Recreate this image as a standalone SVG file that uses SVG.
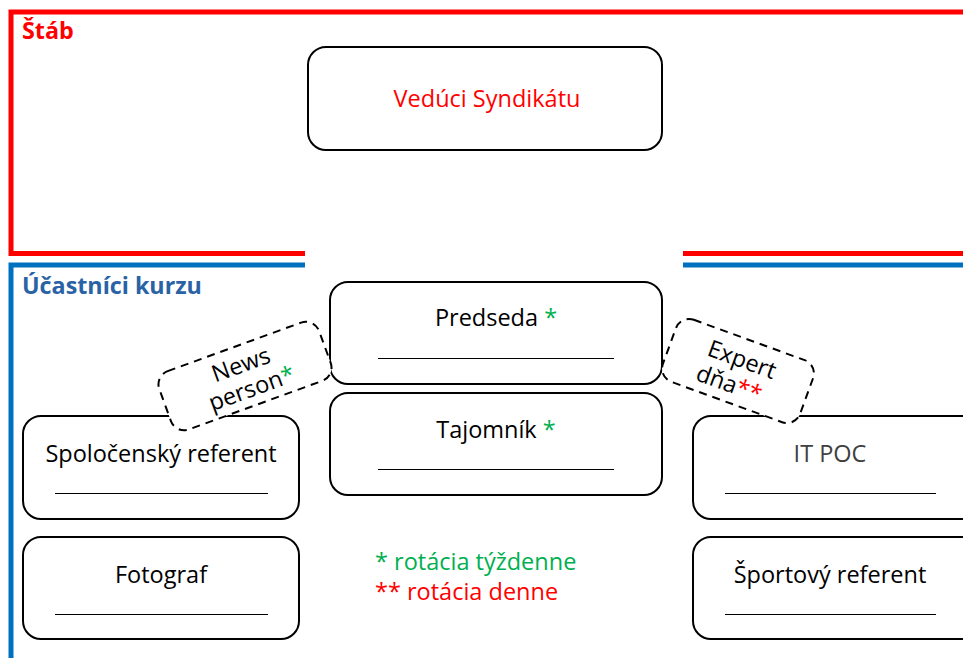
<svg xmlns="http://www.w3.org/2000/svg" width="963" height="658" viewBox="0 0 963 658">
<style>
.box{fill:#fff;stroke:#000;stroke-width:2}
.dash{fill:#fff;stroke:#000;stroke-width:2;stroke-dasharray:8 6}
.ul{stroke:#000;stroke-width:1.2}
.t{font-family:"Open Sans","Liberation Sans",Arial,sans-serif;font-size:23.5px;fill:#000;text-anchor:middle}
.g{fill:#00B050}
.r{fill:#FF0000}
.red{fill:none;stroke:#FF0000;stroke-width:5}
.blue{fill:none;stroke:#0070C0;stroke-width:5}
.hd{font-family:"Open Sans","Liberation Sans",Arial,sans-serif;font-size:23.3px;font-weight:bold}
</style>
<rect width="963" height="658" fill="#fff"/>
<g id="frames">
<polyline class="red" points="963,12 11,12 11,253.5 305,253.5"/>
<line class="red" x1="683" y1="253.5" x2="963" y2="253.5"/>
<polyline class="blue" points="11,658 11,265 305,265"/>
<line class="blue" x1="683" y1="265" x2="963" y2="265"/>
<text class="hd" x="22" y="39" fill="#FF0000">Štáb</text>
<text class="hd" x="22" y="294" fill="#2A62A6">Účastníci kurzu</text>
</g>
<g id="veduci">
<rect class="box" x="308" y="47" width="354" height="103" rx="18"/>
<text class="t r" x="487" y="107">Vedúci Syndikátu</text>
</g>
<g id="predseda">
<rect class="box" x="330" y="282" width="332" height="102" rx="18"/>
<text class="t" x="496" y="326">Predseda <tspan class="g">*</tspan></text>
<line class="ul" x1="378" y1="358.5" x2="614" y2="358.5"/>
</g>
<g id="tajomnik">
<rect class="box" x="330" y="393" width="332" height="102" rx="18"/>
<text class="t" x="496" y="438">Tajomník <tspan class="g">*</tspan></text>
<line class="ul" x1="378" y1="469.5" x2="614" y2="469.5"/>
</g>
<g id="spolocensky">
<rect class="box" x="23" y="416" width="276" height="103" rx="18"/>
<text class="t" x="161" y="462">Spoločenský referent</text>
<line class="ul" x1="55" y1="493.5" x2="268" y2="493.5"/>
</g>
<g id="fotograf">
<rect class="box" x="23" y="537" width="276" height="102" rx="18"/>
<text class="t" x="161" y="583">Fotograf</text>
<line class="ul" x1="55" y1="614.5" x2="268" y2="614.5"/>
</g>
<g id="itpoc">
<rect class="box" x="693" y="416" width="290" height="103" rx="18"/>
<text class="t" x="830" y="462" style="fill:#404040">IT POC</text>
<line class="ul" x1="725" y1="493.5" x2="936" y2="493.5"/>
</g>
<g id="sportovy">
<rect class="box" x="693" y="537" width="290" height="102" rx="18"/>
<text class="t" x="830" y="583">Športový referent</text>
<line class="ul" x1="725" y1="614.5" x2="936" y2="614.5"/>
</g>
<g id="newsperson" transform="translate(245,376) rotate(-20)">
<rect class="dash" x="-85" y="-31" width="170" height="62" rx="14"/>
<text class="t" x="0" y="-4">News</text>
<text class="t" x="2" y="22">person<tspan class="g">*</tspan></text>
</g>
<g id="expert" transform="translate(738,371) rotate(20)">
<rect class="dash" x="-73" y="-33" width="146" height="66" rx="14"/>
<text class="t" x="0" y="-4">Expert</text>
<text class="t" x="-4" y="23">dňa<tspan class="r">**</tspan></text>
</g>
<g id="legend">
<text class="t g" x="375" y="570" style="text-anchor:start">* rotácia týždenne</text>
<text class="t r" x="375" y="600" style="text-anchor:start">** rotácia denne</text>
</g>
</svg>
